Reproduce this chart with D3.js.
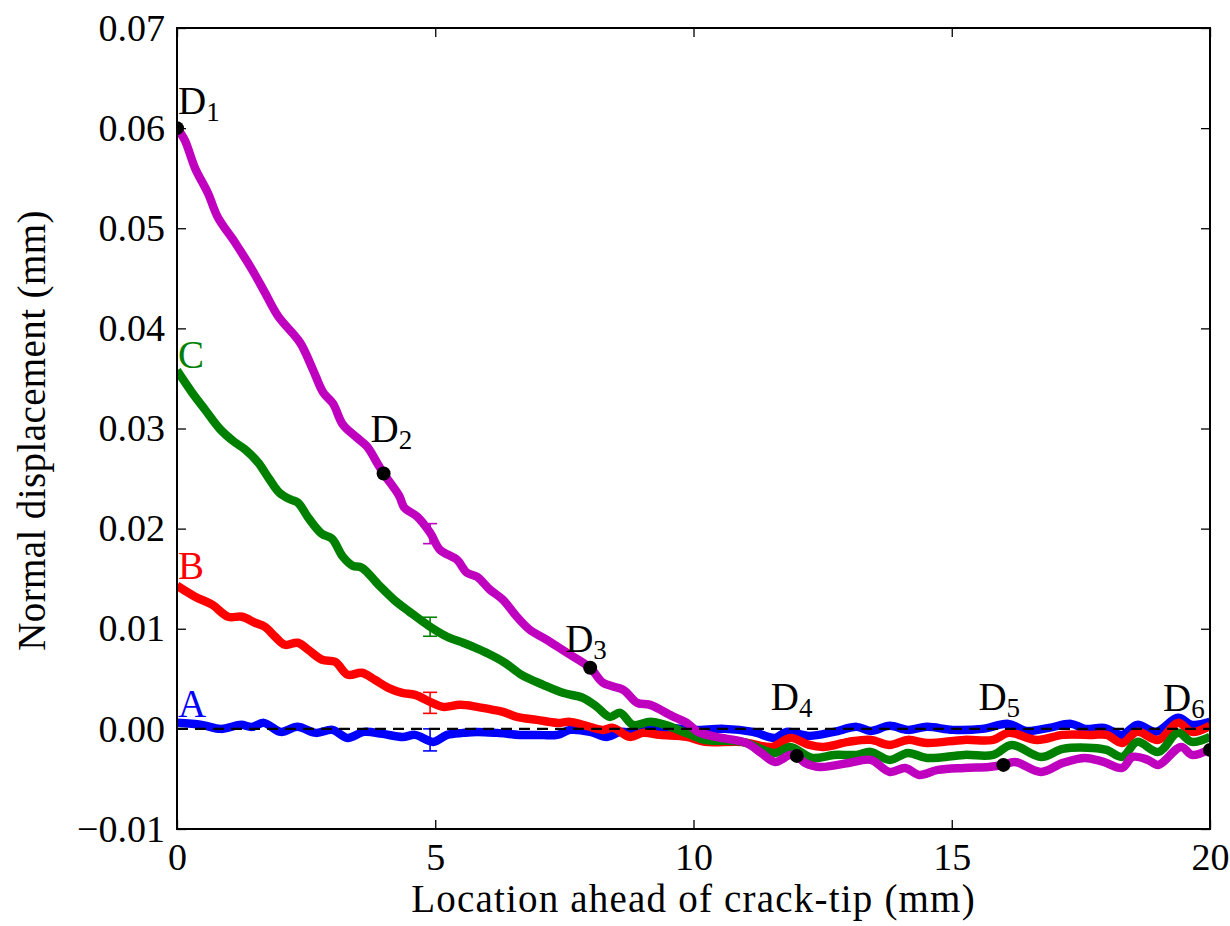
<!DOCTYPE html>
<html>
<head>
<meta charset="utf-8">
<script src="https://cdn.jsdelivr.net/npm/d3@7"></script>
<style>
  html, body { margin: 0; padding: 0; background: #fff; }
  svg text { font-family: "Liberation Serif", "DejaVu Serif", serif; }
</style>
</head>
<body>
<svg id="chart" width="1230" height="926"></svg>
<script>
// Normal displacement profiles ahead of the crack tip, [location (mm), displacement (mm)]
const seriesA = [
  [0, 0.0006], [0.48, 0.0004], [0.85, 0.0000], [1.24, 0.0004], [1.45, 0.0002], [1.68, 0.0006],
  [2.01, -0.0003], [2.33, 0.0002], [2.69, -0.0004], [3.01, -0.0001], [3.3, -0.0009], [3.62, -0.0003],
  [3.98, -0.0005], [4.37, -0.0008], [4.61, -0.0006], [4.96, -0.0013], [5.23, -0.0006], [5.54, -0.0004],
  [5.81, -0.0003], [6.2, -0.0004], [6.64, -0.0006], [6.97, -0.0006], [7.36, -0.0006], [7.61, -0.0001],
  [8.0, -0.0003], [8.32, -0.0008], [8.58, -0.0003], [8.91, -0.0004], [9.22, 0.0001], [9.55, 0.0001],
  [10.0, -0.0001], [10.6, 0.0000], [11.15, -0.0003], [11.58, -0.0009], [11.8, -0.0003], [12.24, -0.0007],
  [12.72, -0.0003], [13.16, 0.0002], [13.43, -0.0002], [13.8, 0.0003], [14.15, -0.0001], [14.52, 0.0002],
  [15.02, -0.0001], [15.59, 0.0000], [16.1, 0.0005], [16.44, -0.0002], [16.88, 0.0001], [17.31, 0.0005],
  [17.58, 0.0000], [17.95, 0.0001], [18.3, -0.0006], [18.59, 0.0004], [18.95, -0.0003], [19.38, 0.0011],
  [19.65, 0.0004], [20.0, 0.0007]
];
const seriesB = [
  [0, 0.0143], [0.35, 0.0132], [0.68, 0.0124], [0.99, 0.0112], [1.26, 0.0112], [1.51, 0.0106],
  [1.7, 0.0102], [1.9, 0.0092], [2.09, 0.0084], [2.34, 0.0086], [2.54, 0.0079], [2.81, 0.0069],
  [3.06, 0.0067], [3.31, 0.0054], [3.58, 0.0056], [3.83, 0.0049], [4.09, 0.0041], [4.36, 0.0036],
  [4.61, 0.0034], [4.9, 0.0027], [5.15, 0.0022], [5.48, 0.0024], [5.81, 0.0022], [6.12, 0.0019],
  [6.31, 0.0017], [6.58, 0.0012], [6.97, 0.0009], [7.36, 0.0006], [7.61, 0.0007], [7.86, 0.0004],
  [8.25, -0.0001], [8.44, 0.0001], [8.77, -0.0008], [9.02, -0.0004], [9.35, -0.0006], [9.87, -0.0008],
  [10.22, -0.0013], [10.94, -0.0013], [11.52, -0.0018], [11.87, -0.0009], [12.24, -0.0016], [12.51, -0.0018],
  [13.0, -0.0013], [13.43, -0.0011], [13.8, -0.0016], [14.15, -0.0011], [14.52, -0.0014], [15.24, -0.0011],
  [15.8, -0.0011], [16.1, -0.0004], [16.65, -0.0011], [17.15, -0.0006], [17.73, -0.0006], [18.0, -0.0006],
  [18.3, -0.0014], [18.59, -0.0003], [19.0, -0.0011], [19.38, 0.0006], [19.65, -0.0003], [20.0, 0.0003]
];
const seriesC = [
  [0, 0.0358], [0.29, 0.0336], [0.54, 0.0319], [0.84, 0.0299], [1.1, 0.0287], [1.32, 0.0279],
  [1.57, 0.0266], [1.78, 0.0250], [1.98, 0.0236], [2.2, 0.0229], [2.34, 0.0226], [2.54, 0.0211],
  [2.8, 0.0195], [3.0, 0.0190], [3.21, 0.0172], [3.4, 0.0163], [3.58, 0.0161], [3.9, 0.0144],
  [4.2, 0.0129], [4.5, 0.0117], [4.9, 0.0102], [5.23, 0.0092], [5.54, 0.0086], [5.73, 0.0082],
  [6.03, 0.0075], [6.35, 0.0066], [6.67, 0.0054], [7.09, 0.0044], [7.47, 0.0036], [7.86, 0.0031],
  [8.13, 0.0022], [8.38, 0.0012], [8.58, 0.0016], [8.83, 0.0004], [9.16, 0.0007], [9.45, 0.0004],
  [9.9, -0.0005], [10.22, -0.0011], [10.94, -0.0013], [11.58, -0.0024], [11.87, -0.0018], [12.3, -0.0029],
  [12.72, -0.0026], [13.16, -0.0026], [13.43, -0.0023], [13.8, -0.0031], [14.15, -0.0024], [14.52, -0.0029],
  [15.24, -0.0026], [15.8, -0.0026], [16.16, -0.0016], [16.73, -0.0028], [17.15, -0.0020], [17.73, -0.0019],
  [18.0, -0.0021], [18.3, -0.0028], [18.59, -0.0013], [19.0, -0.0023], [19.38, -0.0004], [19.65, -0.0013],
  [20.0, -0.0008]
];
const seriesD = [
  [0, 0.0600], [0.15, 0.0588], [0.35, 0.0560], [0.6, 0.0535], [0.79, 0.0511], [1.12, 0.0486],
  [1.45, 0.0459], [1.7, 0.0436], [1.96, 0.0412], [2.38, 0.0386], [2.63, 0.0359], [2.83, 0.0336],
  [3.02, 0.0325], [3.21, 0.0304], [3.48, 0.0291], [3.68, 0.0282], [3.87, 0.0266], [4.0, 0.0255],
  [4.3, 0.0233], [4.4, 0.0221], [4.65, 0.0212], [4.9, 0.0196], [5.09, 0.0179], [5.42, 0.0169],
  [5.61, 0.0156], [5.81, 0.0152], [6.06, 0.0139], [6.31, 0.0129], [6.58, 0.0112], [6.83, 0.0099],
  [7.16, 0.0089], [7.55, 0.0076], [8.0, 0.0061], [8.25, 0.0046], [8.64, 0.0039], [8.91, 0.0026],
  [9.16, 0.0024], [9.58, 0.0013], [9.87, 0.0006], [10.09, -0.0003], [10.44, -0.0008], [11.02, -0.0014],
  [11.31, -0.0024], [11.58, -0.0033], [11.87, -0.0026], [12.0, -0.0027], [12.16, -0.0034], [12.45, -0.0038],
  [13.0, -0.0034], [13.43, -0.0031], [13.8, -0.0043], [14.1, -0.0039], [14.37, -0.0046], [14.73, -0.0041],
  [15.24, -0.0039], [15.72, -0.0038], [16.0, -0.0036], [16.22, -0.0033], [16.73, -0.0043], [17.15, -0.0034],
  [17.58, -0.0029], [17.94, -0.0033], [18.3, -0.0039], [18.5, -0.0028], [18.8, -0.0031], [19.0, -0.0036],
  [19.44, -0.0018], [19.65, -0.0026], [20.0, -0.0020]
];

const seriesNames = ["A", "B", "C", "D"];
const seriesColors = ["#0000ff", "#ff0000", "#008000", "#bf00bf"];
const seriesData = [seriesA, seriesB, seriesC, seriesD];

// Error bars at one location for each profile
const errorX = 4.9;
const errorCenter = [-0.0011, 0.0026, 0.0102, 0.0195];
const errorHalf = [0.0011, 0.00105, 0.00095, 0.001];

// Marked points along profile D
const markerNames = ["1", "2", "3", "4", "5", "6"];
const markerX = [0, 4, 8, 12, 16, 20];
const markerY = [0.0600, 0.0255, 0.0061, -0.0027, -0.0036, -0.0021];

const xTicks = [0, 5, 10, 15, 20];
const yTicks = [-0.01, 0.00, 0.01, 0.02, 0.03, 0.04, 0.05, 0.06, 0.07];

const xLabel = "Location ahead of crack-tip (mm)";
const yLabel = "Normal displacement (mm)";

// ---- layout ----
const plot = { left: 177, right: 1210, top: 28, bottom: 829 };
const fontSize = 38;
const titleSize = 39;
const subSize = 27;
const tickLen = 9;

const svg = d3.select("#chart");
const x = d3.scaleLinear().domain([0, 20]).range([plot.left, plot.right]);
const y = d3.scaleLinear().domain([-0.01, 0.07]).range([plot.bottom, plot.top]);

svg.append("defs").append("clipPath").attr("id", "plotClip")
  .append("rect")
  .attr("x", plot.left).attr("y", plot.top)
  .attr("width", plot.right - plot.left).attr("height", plot.bottom - plot.top);

const fmtY = v => {
  const s = Math.abs(v).toFixed(2);
  return (v < -1e-9 ? "\u2212" : "") + s;
};

// ticks on all four sides, pointing inward
const axisG = svg.append("g");
const bottomAxis = d3.axisBottom(x).tickValues(xTicks).tickSize(-tickLen).tickPadding(14).tickFormat(d3.format("d"));
const topAxis = d3.axisTop(x).tickValues(xTicks).tickSize(-tickLen).tickFormat("");
const leftAxis = d3.axisLeft(y).tickValues(yTicks).tickSize(-tickLen).tickPadding(12).tickFormat(fmtY);
const rightAxis = d3.axisRight(y).tickValues(yTicks).tickSize(-tickLen).tickFormat("");

function styleAxis(g) {
  g.select(".domain").remove();
  g.selectAll(".tick line").attr("stroke", "#000").attr("stroke-width", 1.3);
  g.selectAll(".tick text").attr("fill", "#000").style("font-size", fontSize + "px")
    .style("font-family", '"Liberation Serif", serif');
}
axisG.append("g").attr("transform", `translate(0,${plot.bottom})`).call(bottomAxis).call(styleAxis);
axisG.append("g").attr("transform", `translate(0,${plot.top})`).call(topAxis).call(styleAxis);
axisG.append("g").attr("transform", `translate(${plot.left},0)`).call(leftAxis).call(styleAxis);
axisG.append("g").attr("transform", `translate(${plot.right},0)`).call(rightAxis).call(styleAxis);

// axis titles
svg.append("text")
  .attr("x", (plot.left + plot.right) / 2).attr("y", 912)
  .attr("text-anchor", "middle").style("font-size", titleSize + "px")
  .style("letter-spacing", "1.2px").attr("fill", "#000")
  .text(xLabel);
svg.append("text")
  .attr("transform", `translate(45,${(plot.top + plot.bottom) / 2 + 2}) rotate(-90)`)
  .attr("text-anchor", "middle").style("font-size", titleSize + "px")
  .style("letter-spacing", "0.4px").attr("fill", "#000")
  .text(yLabel);

// data layer
const dataG = svg.append("g").attr("clip-path", "url(#plotClip)");
const line = d3.line().curve(d3.curveCatmullRom.alpha(0.5)).x(d => x(d[0])).y(d => y(d[1]));

seriesData.forEach((s, i) => {
  dataG.append("path")
    .datum(s)
    .attr("fill", "none")
    .attr("stroke", seriesColors[i])
    .attr("stroke-width", 8.5)
    .attr("stroke-linejoin", "round")
    .attr("stroke-linecap", "butt")
    .attr("d", line);
});

// error bars
const capHalf = 7;
errorCenter.forEach((c, i) => {
  const g = dataG.append("g").attr("stroke", seriesColors[i]).attr("stroke-width", 1.6);
  const xp = x(errorX), y0 = y(c - errorHalf[i]), y1 = y(c + errorHalf[i]);
  g.append("line").attr("x1", xp).attr("x2", xp).attr("y1", y0).attr("y2", y1);
  g.append("line").attr("x1", xp - capHalf).attr("x2", xp + capHalf).attr("y1", y0).attr("y2", y0);
  g.append("line").attr("x1", xp - capHalf).attr("x2", xp + capHalf).attr("y1", y1).attr("y2", y1);
});

// zero reference line
dataG.append("line")
  .attr("x1", x(0)).attr("x2", x(20))
  .attr("y1", y(0)).attr("y2", y(0))
  .attr("stroke", "#000").attr("stroke-width", 2.2)
  .attr("stroke-dasharray", "11,7");

// marker dots
markerX.forEach((mx, i) => {
  dataG.append("circle")
    .attr("cx", x(mx)).attr("cy", y(markerY[i])).attr("r", 7).attr("fill", "#000");
});

// frame
svg.append("rect")
  .attr("x", plot.left).attr("y", plot.top)
  .attr("width", plot.right - plot.left).attr("height", plot.bottom - plot.top)
  .attr("fill", "none").attr("stroke", "#000").attr("stroke-width", 2);

// series letters at the start of each profile
const letterOffset = [-6, -7, -2];
seriesNames.slice(0, 3).forEach((name, i) => {
  svg.append("text")
    .attr("x", x(0) + 1).attr("y", y(seriesData[i][0][1]) + letterOffset[i])
    .style("font-size", titleSize + "px").attr("fill", seriesColors[i])
    .text(name);
});

// D labels with subscripts, offsets in pixels from the marked point
const labelOffsets = [[1, -14], [-13, -32], [-25, -16], [-26, -46], [-25, -55], [-47, -39]];
markerX.forEach((mx, i) => {
  const t = svg.append("text")
    .attr("x", x(mx) + labelOffsets[i][0]).attr("y", y(markerY[i]) + labelOffsets[i][1])
    .style("font-size", titleSize + "px").attr("fill", "#000");
  t.append("tspan").text("D");
  t.append("tspan").attr("dy", 7).style("font-size", subSize + "px").text(markerNames[i]);
});
</script>
</body>
</html>
